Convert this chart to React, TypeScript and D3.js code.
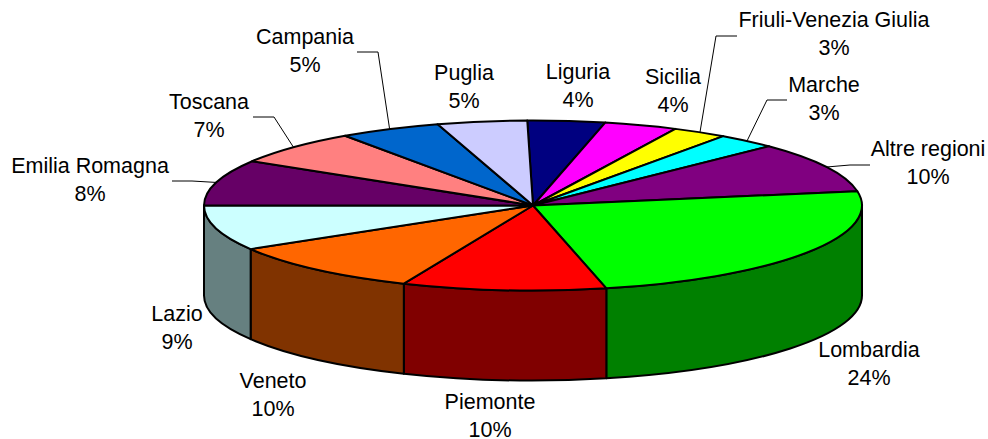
import React from "react";
import * as d3 from "d3";

const regions = ["Liguria","Sicilia","Friuli-Venezia Giulia","Marche","Altre regioni","Lombardia","Piemonte","Veneto","Lazio","Emilia Romagna","Toscana","Campania","Puglia"];
// Slice sizes (percent of the whole)
const shares = [3.8,3.6,2.7,2.9,9.6,24.1,10.0,10.0,8.6,8.7,6.6,5.0,4.4];
// Percent labels as printed on the chart
const printed = ["4%","4%","3%","3%","10%","24%","10%","10%","9%","8%","7%","5%","5%"];
const topColors = ["#000080","#FF00FF","#FFFF00","#00FFFF","#800080","#00FF00","#FF0000","#FF6600","#CCFFFF","#660066","#FF8080","#0066CC","#CCCCFF"];
const sideColors = ["#000040","#800080","#808000","#008080","#400040","#008000","#800000","#803300","#668080","#330033","#804040","#003366","#666680"];

const W = 988, H = 439;
const cx = 533, cy = 205.5, rx = 329, ry = 85, depth = 90;
const FONT = "'Liberation Sans', Arial, sans-serif";
const FS = 21.5;

type Lay = { x: number; y: number; elbow?: [number, number][] };
const layout: Record<string, Lay> = {
  "Liguria": { x: 578, y: 79 },
  "Sicilia": { x: 673, y: 84 },
  "Friuli-Venezia Giulia": { x: 834, y: 27, elbow: [[737, 36], [716, 36]] },
  "Marche": { x: 824, y: 92, elbow: [[787, 100], [767, 100]] },
  "Altre regioni": { x: 928, y: 156, elbow: [[870, 165], [850, 165]] },
  "Lombardia": { x: 869, y: 357 },
  "Piemonte": { x: 490, y: 409 },
  "Veneto": { x: 273, y: 388 },
  "Lazio": { x: 177, y: 321 },
  "Emilia Romagna": { x: 90, y: 173, elbow: [[172, 181], [192, 181]] },
  "Toscana": { x: 209, y: 109, elbow: [[253, 117], [274, 117]] },
  "Campania": { x: 305, y: 44, elbow: [[357, 52], [378, 52]] },
  "Puglia": { x: 464, y: 80 },
};

const startA = (-1 * Math.PI) / 180;
const pieGen = d3.pie<number>().sort(null).startAngle(startA).endAngle(startA + 2 * Math.PI);
const arcs = pieGen(shares);

const pt = (a: number, dy = 0): [number, number] => [cx + rx * Math.sin(a), cy - ry * Math.cos(a) + dy];

function topPath(a0: number, a1: number) {
  const [x0, y0] = pt(a0), [x1, y1] = pt(a1);
  const large = a1 - a0 > Math.PI ? 1 : 0;
  return `M${cx},${cy}L${x0},${y0}A${rx},${ry} 0 ${large} 1 ${x1},${y1}Z`;
}
function sidePath(a0: number, a1: number) {
  const lo = Math.max(a0, Math.PI / 2), hi = Math.min(a1, (3 * Math.PI) / 2);
  if (hi <= lo) return null;
  const [x0, y0] = pt(lo), [x1, y1] = pt(hi);
  return `M${x0},${y0}A${rx},${ry} 0 0 1 ${x1},${y1}L${x1},${y1 + depth}A${rx},${ry} 0 0 0 ${x0},${y0 + depth}Z`;
}

export default function App() {
  return (
    <svg width={W} height={H} style={{ position: "absolute", left: 0, top: 0, background: "#fff" }}>
      <g stroke="#000" strokeWidth={2} strokeLinejoin="round">
        {arcs.map((d, i) => {
          const p = sidePath(d.startAngle, d.endAngle);
          return p ? <path key={i} d={p} fill={sideColors[i]} /> : null;
        })}
        {arcs.map((d, i) => (
          <path key={i} d={topPath(d.startAngle, d.endAngle)} fill={topColors[i]} />
        ))}
      </g>
      <g fill="none" stroke="#000" strokeWidth={1}>
        {arcs.map((d, i) => {
          const l = layout[regions[i]];
          if (!l.elbow) return null;
          const tip = pt((d.startAngle + d.endAngle) / 2);
          return <polyline key={i} points={[...l.elbow, tip].map((q) => q.join(",")).join(" ")} />;
        })}
      </g>
      <g fontFamily={FONT} fontSize={FS} fill="#000" textAnchor="middle">
        {regions.map((r, i) => (
          <g key={r}>
            <text x={layout[r].x} y={layout[r].y}>{r}</text>
            <text x={layout[r].x} y={layout[r].y + 27.5}>{printed[i]}</text>
          </g>
        ))}
      </g>
    </svg>
  );
}
